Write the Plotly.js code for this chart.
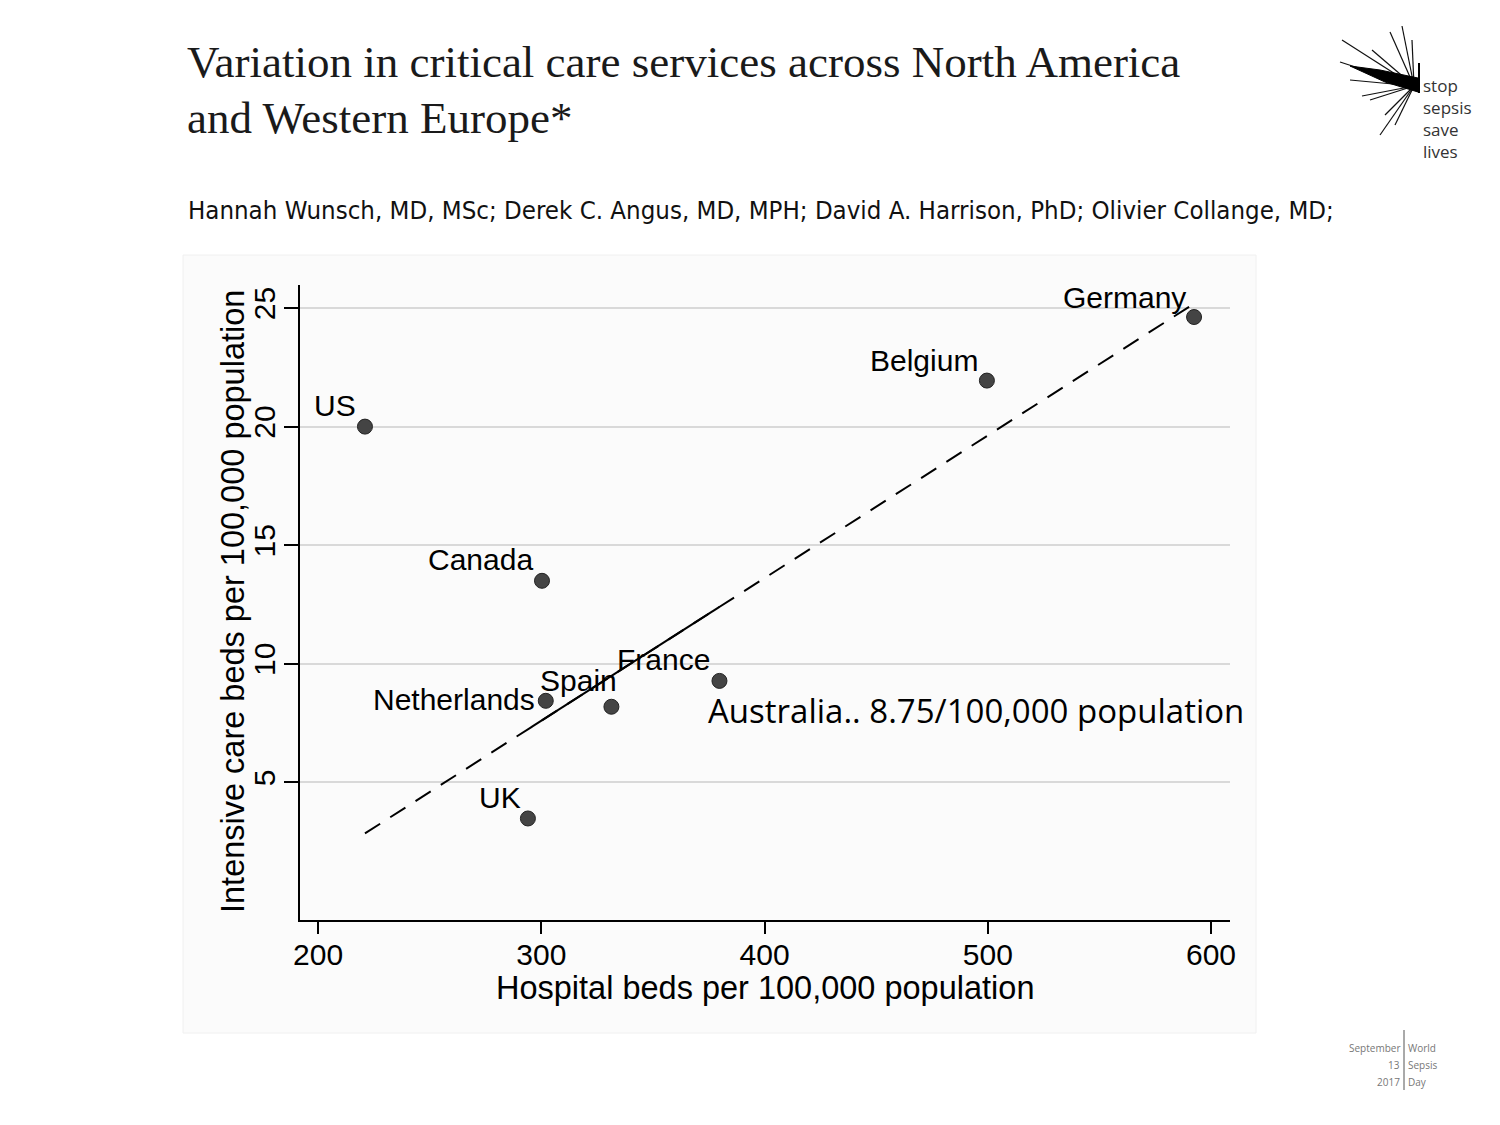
<!DOCTYPE html>
<html>
<head>
<meta charset="utf-8">
<script src="https://cdn.plot.ly/plotly-3.0.1.min.js"></script>
<style>html,body{margin:0;padding:0;background:#fff;}#chart{width:1500px;height:1125px;}</style>
</head>
<body>
<div id="chart"></div>
<script>
// ---- data ----
var countries = ["US", "Canada", "Netherlands", "Spain", "France", "UK", "Belgium", "Germany"];
var hospitalBeds = [221, 300.3, 302, 331.4, 379.8, 294, 499.6, 592.4];
var icuBeds = [20.0, 13.5, 8.44, 8.19, 9.28, 3.48, 21.94, 24.62];
var fitX = [221, 591.5];
var fitY = [2.85, 25.13];
var fitSolidX = [295.5, 379.8];
var fitSolidY = [7.33, 12.40];
var xTicks = [200, 300, 400, 500, 600];
var yTicks = [5, 10, 15, 20, 25];
var xTitle = "Hospital beds per 100,000 population";
var yTitle = "Intensive care beds per 100,000 population";
var noteText = "Australia.. 8.75/100,000 population";
var noteX = 373.6, noteY = 8.02;

// ---- label placement (pixel offsets from each point) ----
var labelDx = {US:-7, Canada:-7, Netherlands:-9, Spain:8, France:-7, UK:-5, Belgium:-7, Germany:-6};
var labelDy = {US:21, Canada:21, Netherlands:1, Spain:26, France:21, UK:21, Belgium:20, Germany:20};

var L = 300, R = 270, T = 285, B = 205, W = 1500, H = 1125;
function px(x){ return (x - L) / (W - L - R); }
function py(y){ return (H - B - y) / (H - T - B); }

var chartFont = "Liberation Sans, Arial, sans-serif";

var traces = [
  {x: fitX, y: fitY, mode: "lines", type: "scatter", hoverinfo: "skip",
   line: {color: "#000", width: 2, dash: "18px,12px"}},
  {x: fitSolidX, y: fitSolidY, mode: "lines", type: "scatter", hoverinfo: "skip",
   line: {color: "#000", width: 2}},
  {x: hospitalBeds, y: icuBeds, mode: "markers", type: "scatter", text: countries,
   marker: {size: 15, color: "#444", line: {color: "#222", width: 1}}}
];

var annotations = countries.map(function(c, i){
  return {x: hospitalBeds[i], y: icuBeds[i], xref: "x", yref: "y", text: c, showarrow: false,
          xanchor: "right", yanchor: "middle", xshift: labelDx[c], yshift: labelDy[c],
          font: {family: chartFont, size: 30, color: "#000"}};
});
annotations.push({x: noteX, y: noteY, xref: "x", yref: "y", text: noteText, showarrow: false,
  xanchor: "left", yanchor: "middle", font: {family: "Open Sans, Noto Sans, sans-serif", size: 33, color: "#000"}});

// axis titles
annotations.push({x: px(765), y: py(988), xref: "paper", yref: "paper", xanchor: "center", yanchor: "middle",
  text: xTitle, showarrow: false, font: {family: chartFont, size: 32.5, color: "#000"}});
annotations.push({x: px(233), y: py(602), xref: "paper", yref: "paper", xanchor: "center", yanchor: "middle", textangle: -90,
  text: yTitle, showarrow: false, font: {family: chartFont, size: 32.5, color: "#000"}});

// headers
annotations.push({x: px(185), y: py(62), xref: "paper", yref: "paper", xanchor: "left", yanchor: "middle",
  text: "Variation in critical care services across North America", showarrow: false,
  font: {family: "Liberation Serif, Times New Roman, serif", size: 45, color: "#1a1a1a"}});
annotations.push({x: px(185), y: py(118), xref: "paper", yref: "paper", xanchor: "left", yanchor: "middle",
  text: "and Western Europe*", showarrow: false,
  font: {family: "Liberation Serif, Times New Roman, serif", size: 45, color: "#1a1a1a"}});
annotations.push({x: px(186), y: py(210), xref: "paper", yref: "paper", xanchor: "left", yanchor: "middle",
  text: "Hannah Wunsch, MD, MSc; Derek C. Angus, MD, MPH; David A. Harrison, PhD; Olivier Collange, MD;", showarrow: false,
  font: {family: "Liberation Sans Narrow, DejaVu Sans Condensed, sans-serif", size: 25.6, color: "#111"}});

// logo text
annotations.push({x: px(1421), y: py(119), xref: "paper", yref: "paper", xanchor: "left", yanchor: "middle", align: "left",
  text: "stop<br>sepsis<br>save<br>lives", showarrow: false, font: {family: "Open Sans, sans-serif", size: 17, color: "#333"}});
// footer
[["September", "World"], ["13", "Sepsis"], ["2017", "Day"]].forEach(function(p, i){
  annotations.push({x: px(1402), y: py(1048 + 17 * i), xref: "paper", yref: "paper", xanchor: "right", yanchor: "middle",
    text: p[0], showarrow: false, font: {family: "Open Sans, sans-serif", size: 10, color: "#777"}});
  annotations.push({x: px(1406), y: py(1048 + 17 * i), xref: "paper", yref: "paper", xanchor: "left", yanchor: "middle",
    text: p[1], showarrow: false, font: {family: "Open Sans, sans-serif", size: 10, color: "#777"}});
});

var shapes = [
  {type: "rect", xref: "paper", yref: "paper", x0: px(183), x1: px(1256), y0: py(255), y1: py(1033),
   fillcolor: "#fbfbfb", line: {color: "#f0f0f0", width: 1}, layer: "below"},
  {type: "line", xref: "paper", yref: "paper", x0: px(1404), x1: px(1404), y0: py(1030), y1: py(1090),
   line: {color: "#555", width: 1}},
  {type: "line", xref: "paper", yref: "paper", x0: px(1419), x1: px(1419), y0: py(63), y1: py(93),
   line: {color: "#000", width: 2}}
];
// logo splat strokes (decorative)
var splat = [[1342,40],[1340,62],[1350,80],[1362,96],[1372,50],[1390,32],[1402,26],[1412,40],[1385,115],[1395,125],[1380,135],[1370,100]];
splat.forEach(function(p){
  shapes.push({type: "line", xref: "paper", yref: "paper", x0: px(1414), y0: py(86), x1: px(p[0]), y1: py(p[1]),
    line: {color: "#111", width: 1.2}});
});
shapes.push({type: "path", xref: "paper", yref: "paper",
  path: "M " + px(1418) + " " + py(78) + " L " + px(1380) + " " + py(70) + " L " + px(1350) + " " + py(66) + " L " + px(1385) + " " + py(82) + " L " + px(1418) + " " + py(92) + " Z",
  fillcolor: "#000", line: {color: "#000", width: 1}});

var layout = {
  width: W, height: H,
  margin: {l: L, r: R, t: T, b: B, pad: 0},
  paper_bgcolor: "#fff", plot_bgcolor: "rgba(0,0,0,0)",
  showlegend: false,
  xaxis: {range: [191.9, 608.5], tickvals: xTicks, ticktext: xTicks.map(String), showgrid: false, zeroline: false,
    showline: true, linecolor: "#000", linewidth: 2, ticks: "outside", ticklen: 12, tickwidth: 2, tickcolor: "#000",
    ticklabelstandoff: -5,
    tickfont: {family: chartFont, size: 30, color: "#000"}},
  yaxis: {range: [-0.8, 25.97], tickvals: yTicks, ticktext: yTicks.map(String), showgrid: true, gridcolor: "#d9d9d9", gridwidth: 2,
    zeroline: false, showline: true, linecolor: "#000", linewidth: 2, ticks: "outside", ticklen: 14, tickwidth: 2, tickcolor: "#000",
    ticklabelstandoff: -3,
    tickangle: -90, tickfont: {family: chartFont, size: 30, color: "#000"}},
  annotations: annotations,
  shapes: shapes
};

Plotly.newPlot("chart", traces, layout, {staticPlot: true, displayModeBar: false});
</script>
</body>
</html>
